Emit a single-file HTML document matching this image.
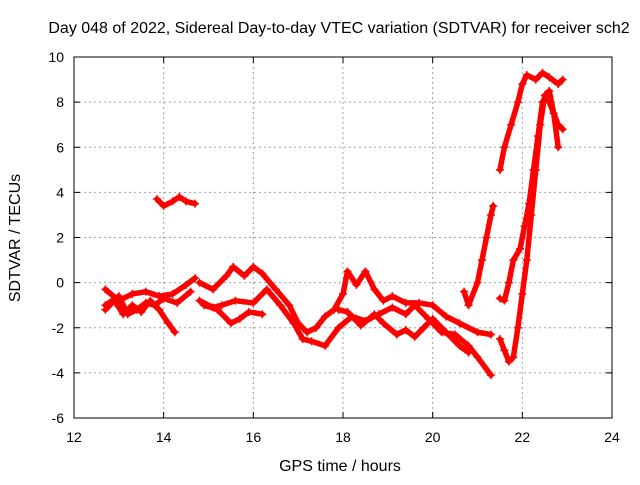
<!DOCTYPE html>
<html><head><meta charset="utf-8"><style>
body{margin:0;background:#fff;}
svg{font-family:"Liberation Sans",sans-serif;font-size:14px;}
</style></head><body>
<svg id="chart" width="640" height="480" viewBox="0 0 640 480">
<text x="339" y="33" text-anchor="middle" style="font-size:16px">Day 048 of 2022, Sidereal Day-to-day VTEC variation (SDTVAR) for receiver sch2</text>
<text x="340" y="471" text-anchor="middle" style="font-size:16px">GPS time / hours</text>
<text transform="translate(20,238) rotate(-90)" text-anchor="middle" style="font-size:16px">SDTVAR / TECUs</text>
<g id="grid"></g><g id="marks"></g><g id="axes"></g>
</svg>
<script>
const xTicks=[12,14,16,18,20,22,24];
const yTicks=[-6,-4,-2,0,2,4,6,8,10];
const trackA=[[13.85,3.7],[14.0,3.4],[14.2,3.6],[14.35,3.8],[14.5,3.6],[14.7,3.5]];
const trackB=[[12.7,-0.3],[13.0,-0.8],[13.3,-0.5],[13.6,-0.4],[13.9,-0.6],[14.2,-0.5],[14.5,-0.1],[14.7,0.2]];
const trackC=[[12.7,-1.2],[12.9,-0.8],[13.1,-1.4],[13.3,-1.0],[13.5,-1.3],[13.7,-0.8],[13.9,-1.2],[14.1,-1.8],[14.25,-2.2]];
const trackD=[[12.7,-1.0],[13.0,-0.6],[13.2,-1.4],[13.4,-1.2],[13.6,-0.9],[13.8,-1.0],[14.0,-0.7],[14.3,-0.9],[14.6,-0.4]];
const trackE=[[14.8,0.0],[15.1,-0.3],[15.4,0.3],[15.55,0.7],[15.8,0.3],[16.0,0.7],[16.2,0.4],[16.5,-0.3],[16.8,-1.0],[17.0,-1.8],[17.2,-2.2],[17.4,-2.0],[17.6,-1.5],[17.8,-1.2],[18.0,-0.5],[18.1,0.5],[18.3,-0.1],[18.5,0.5],[18.7,-0.3],[18.9,-0.8],[19.1,-0.6],[19.4,-0.9],[19.7,-0.9],[20.0,-1.0],[20.3,-1.5],[20.6,-1.8],[21.0,-2.2],[21.3,-2.3]];
const trackF=[[14.8,-0.8],[15.1,-1.1],[15.3,-1.0],[15.6,-0.8],[16.0,-0.9],[16.3,-0.3],[16.6,-1.0],[16.9,-1.8],[17.1,-2.5],[17.3,-2.6],[17.6,-2.8],[17.9,-2.0],[18.2,-1.5],[18.5,-1.7],[18.8,-1.4],[19.1,-1.1],[19.4,-1.4],[19.6,-1.0],[19.9,-1.6],[20.2,-2.2],[20.5,-2.3],[20.8,-2.8],[21.0,-3.3],[21.3,-4.1]];
const trackG=[[14.9,-1.0],[15.2,-1.2],[15.5,-1.8],[15.7,-1.6],[15.9,-1.3],[16.2,-1.4]];
const trackH=[[17.9,-1.2],[18.1,-1.3],[18.4,-1.9],[18.7,-1.4],[18.9,-1.8],[19.2,-2.3],[19.4,-2.1],[19.6,-2.4],[19.8,-2.0],[20.0,-1.6],[20.3,-2.2],[20.6,-2.8],[20.8,-3.1]];
const trackI=[[20.7,-0.4],[20.8,-1.0],[21.0,0.0],[21.1,1.0],[21.2,2.0],[21.3,3.0],[21.35,3.4]];
const trackJ=[[21.5,5.0],[21.6,6.0],[21.75,7.0],[21.9,8.0],[22.0,8.8],[22.1,9.2],[22.3,9.0],[22.45,9.3],[22.6,9.1],[22.8,8.8],[22.9,9.0]];
const trackK=[[21.5,-2.5],[21.6,-3.0],[21.7,-3.5],[21.8,-3.3],[21.9,-2.0],[22.0,-0.5],[22.1,1.0],[22.2,3.0],[22.3,5.0],[22.4,7.0],[22.5,8.3],[22.6,8.0],[22.8,7.0],[22.9,6.8]];
const trackL=[[21.5,-0.7],[21.6,-0.8],[21.7,0.0],[21.8,1.0],[21.95,1.5],[22.05,2.5],[22.15,3.5],[22.25,5.0],[22.35,6.5],[22.45,8.0],[22.6,8.5],[22.7,7.5],[22.8,6.0]];
const tracks=[trackA,trackB,trackC,trackD,trackE,trackF,trackG,trackH,trackI,trackJ,trackK,trackL];

const L=74,R=612,T=57,B=418;
const xs=v=>L+(v-12)/12*(R-L);
const ys=v=>B-(v+6)/16*(B-T);
const NS="http://www.w3.org/2000/svg";
const grid=document.getElementById('grid'),marks=document.getElementById('marks'),axes=document.getElementById('axes');
function mk(tag,attrs,parent){const e=document.createElementNS(NS,tag);for(const k in attrs)e.setAttribute(k,attrs[k]);parent.appendChild(e);return e;}
xTicks.forEach(t=>{
  const x=xs(t);
  if(t>12&&t<24){const g=mk('line',{x1:x,x2:x,y1:T,y2:B,stroke:'#a0a0a0','stroke-dasharray':'2,3'},grid);
  
  }
  const tk=mk('line',{x1:x,x2:x,y1:B,y2:B-6,stroke:'#000'},axes);
  
  
  const tk2=mk('line',{x1:x,x2:x,y1:T,y2:T+6,stroke:'#000'},axes);
  
  
  const lb=mk('text',{x:x,y:B+24,'text-anchor':'middle'},axes);lb.textContent=t;
  
  
});
yTicks.forEach(t=>{
  const y=ys(t);
  if(t>-6&&t<10){const g=mk('line',{x1:L,x2:R,y1:y,y2:y,stroke:'#a0a0a0','stroke-dasharray':'2,3'},grid);
  
  }
  const tk=mk('line',{x1:L,x2:L+6,y1:y,y2:y,stroke:'#000'},axes);
  
  
  const tk2=mk('line',{x1:R,x2:R-6,y1:y,y2:y,stroke:'#000'},axes);
  
  
  const lb=mk('text',{x:L-10,y:y+5,'text-anchor':'end'},axes);lb.textContent=t;
  
  
});
const frame=mk('rect',{x:L,y:T,width:R-L,height:B-T,fill:'none',stroke:'#000'},axes);


tracks.forEach(tr=>{
  const pl=mk('polyline',{points:tr.map(p=>xs(p[0])+','+ys(p[1])).join(' '),fill:'none',stroke:'#ff0000','stroke-width':5.5,'stroke-linejoin':'round','stroke-linecap':'round'},marks);
  
  
  tr.forEach(p=>{
    const x=xs(p[0]),y=ys(p[1]);
    const m=mk('path',{d:`M${x-4},${y}H${x+4}M${x},${y-4}V${y+4}`,stroke:'#ff0000','stroke-width':1.5},marks);
    
    
  });
});
</script>
</body></html>
